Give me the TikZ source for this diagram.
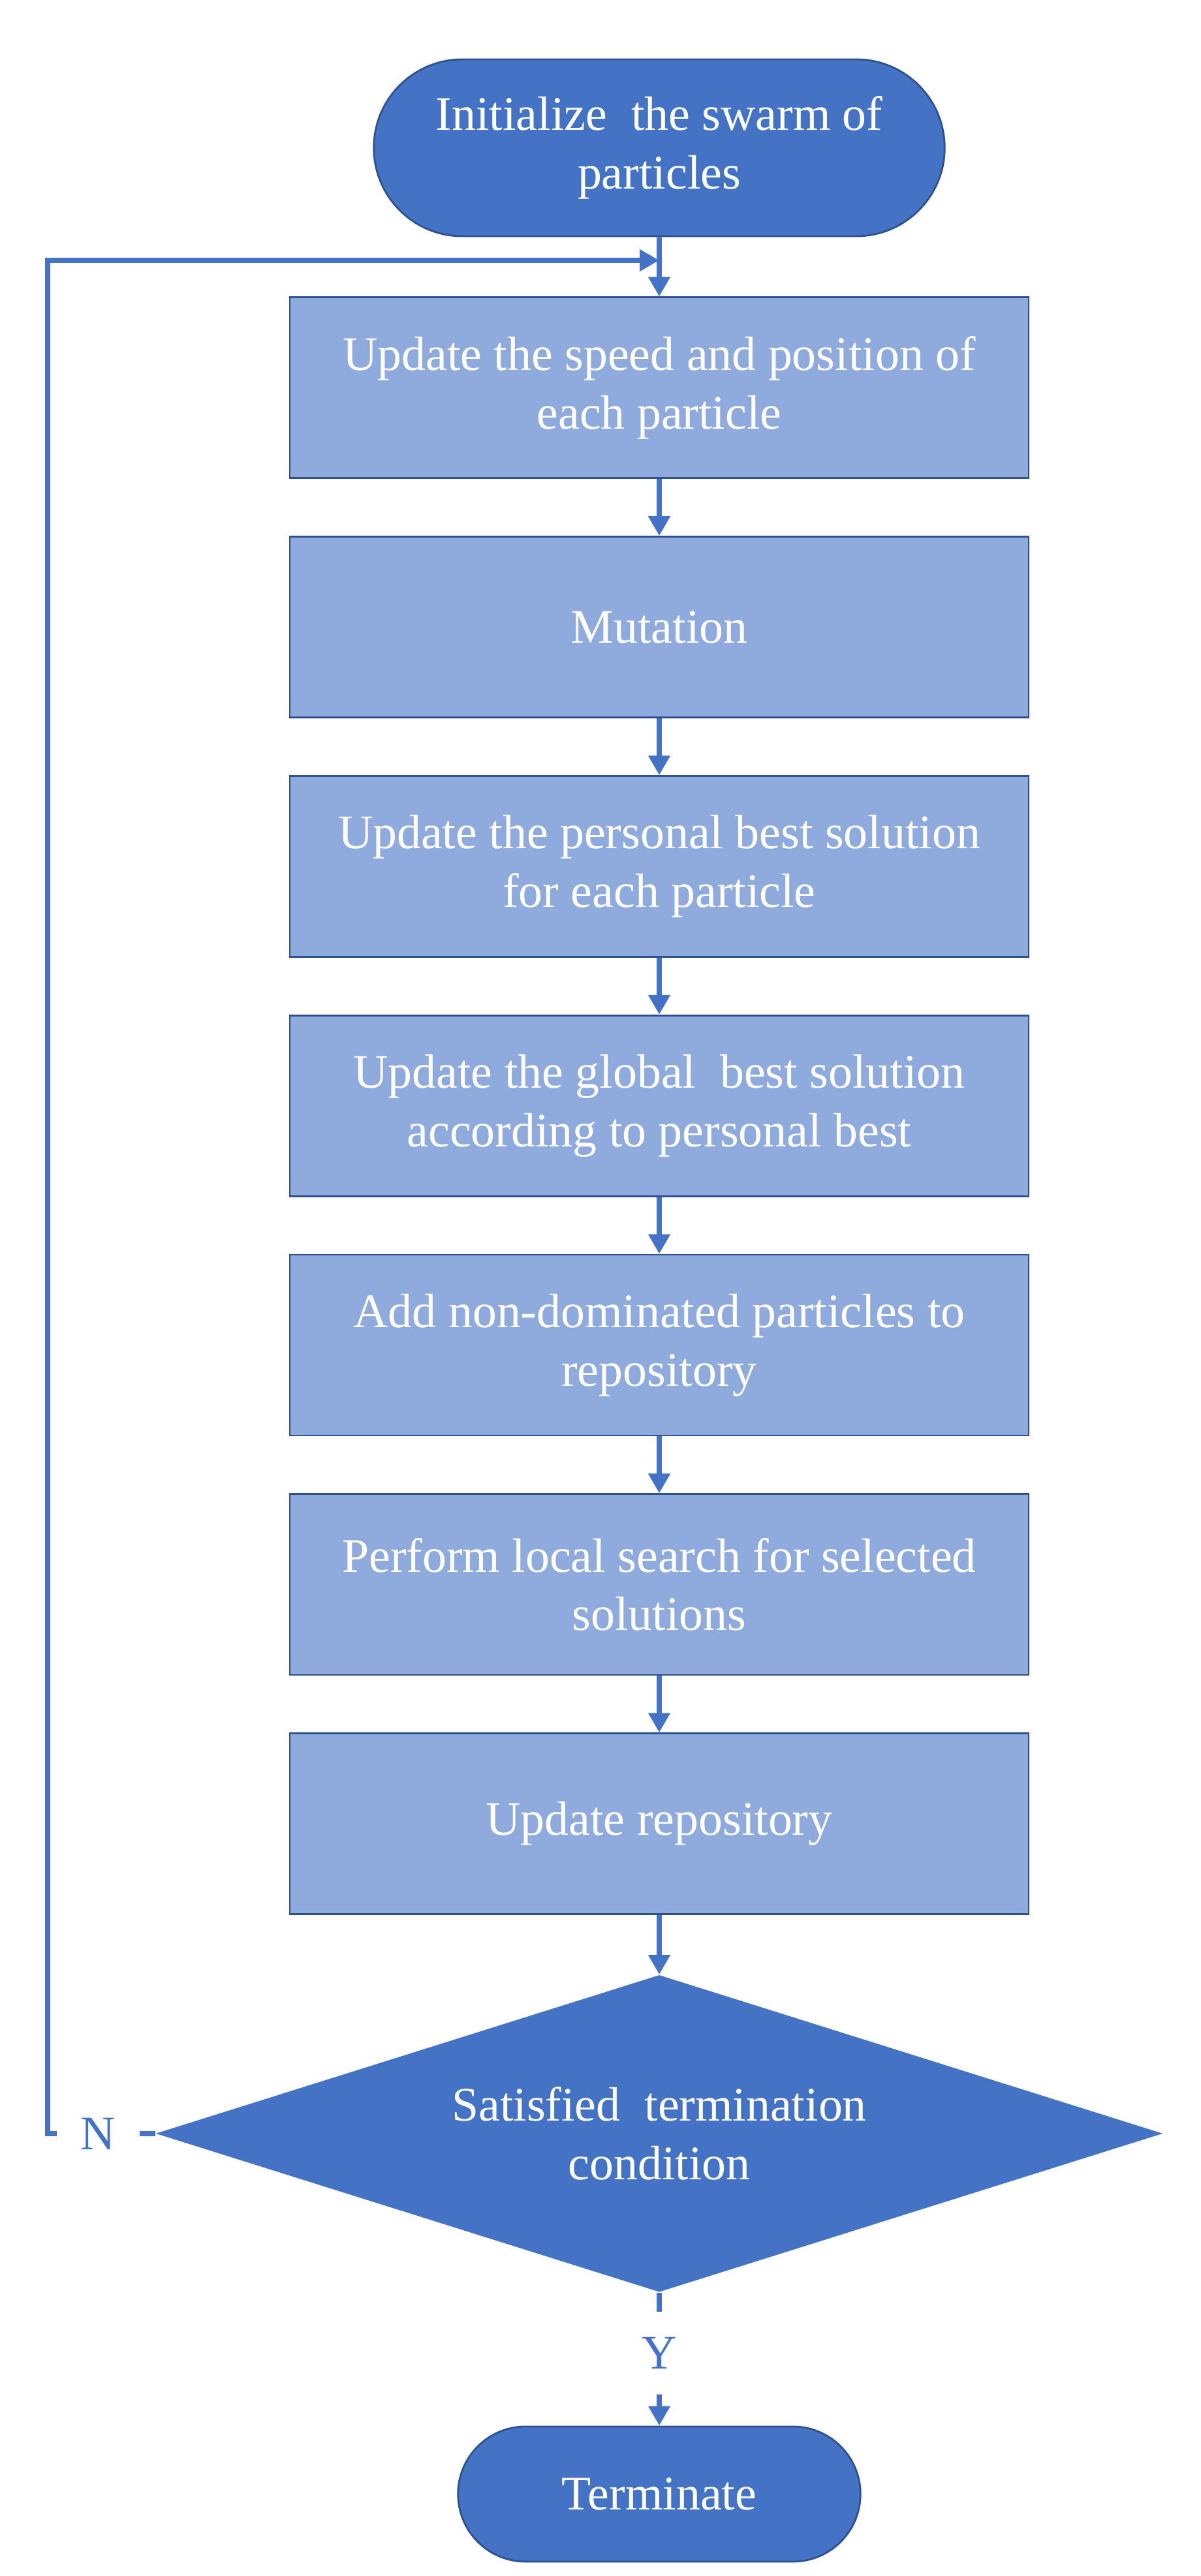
\documentclass[tikz,border=0pt]{standalone}
\usepackage{fontspec}
\setmainfont{Liberation Serif}
\usetikzlibrary{positioning,shapes.geometric,shapes.misc,arrows.meta}
\definecolor{darkblue}{HTML}{4472C4}
\definecolor{lightblue}{HTML}{8FAADC}
\definecolor{edgeblue}{HTML}{2F528F}
\begin{document}
\begin{tikzpicture}[node distance=0.87cm,
  every node/.style={font=\fontsize{21}{25.5}\selectfont, align=center},
  term/.style={rounded rectangle, draw=edgeblue, line width=0.8pt, fill=darkblue, text=white},
  proc/.style={rectangle, draw=edgeblue, line width=0.8pt, fill=lightblue, text=white,
    minimum width=11.32cm, minimum height=2.77cm},
  decision/.style={diamond, fill=darkblue, text=white, aspect=3.2, inner sep=0pt,
    minimum width=15.43cm, minimum height=4.86cm},
  lbl/.style={text=darkblue, minimum size=1.25cm, inner sep=0pt},
  conn/.style={draw=darkblue, line width=2.2pt},
  arr/.style={conn, -{Triangle[length=0.3cm, width=0.32cm]}}]
  \useasboundingbox (0,0) rectangle (18.4,-39.48);
  \node[term, minimum width=8.98cm, minimum height=2.71cm] (init) at (10.1,-2.265) {Initialize~ the swarm of\\particles};
  \node[proc, below=0.91cm of init] (speed) {Update the speed and position of\\each particle};
  \node[proc, below=of speed] (mutate) {Mutation};
  \node[proc, below=of mutate] (pbest) {Update the personal best solution\\for each particle};
  \node[proc, below=of pbest] (gbest) {Update the global~ best solution\\according to personal best};
  \node[proc, below=of gbest] (addrep) {Add non-dominated particles to\\repository};
  \node[proc, below=of addrep] (local) {Perform local search for selected\\solutions};
  \node[proc, below=of local] (uprep) {Update repository};
  \node[decision, below=0.91cm of uprep] (cond) {Satisfied~ termination\\condition};
  \node[term, below=2.04cm of cond, minimum width=6.4cm, minimum height=2.07cm] (stop) {Terminate};
  \node[lbl, left=0.24cm of cond.west] (nlab) {N};
  \node[lbl] (ylab) at ([yshift=-0.93cm]cond.south) {Y};
  \coordinate (back) at (0.73,-3.99);
  \coordinate (join) at (speed.north |- back);
  \foreach \a/\b in {init/speed, speed/mutate, mutate/pbest, pbest/gbest,
    gbest/addrep, addrep/local, local/uprep, uprep/cond}
    \draw[arr] (\a) -- (\b);
  \draw[conn] (cond) -- (nlab);
  \draw[arr] (nlab) -| (back) -- (join);
  \draw[conn] (cond) -- (ylab);
  \draw[arr] (ylab) -- (stop);
\end{tikzpicture}
\end{document}
